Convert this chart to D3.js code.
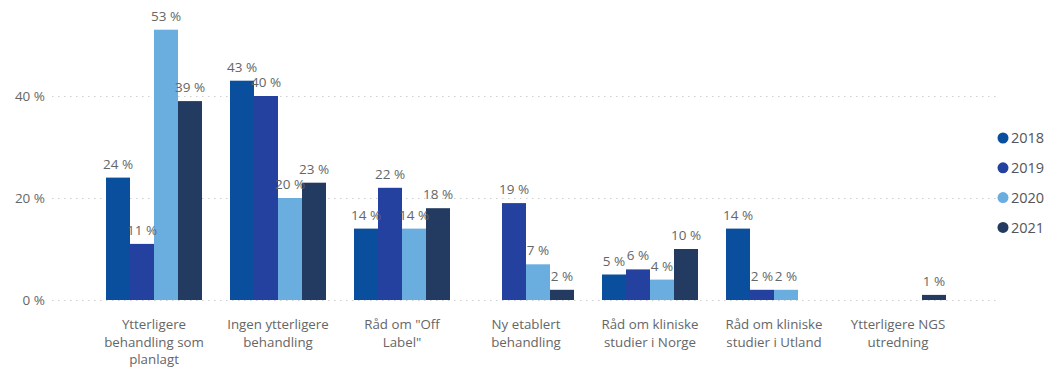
<!DOCTYPE html>
<html>
<head>
<meta charset="utf-8">
<script src="https://cdn.jsdelivr.net/npm/d3@7"></script>
<style>
  html, body { margin: 0; padding: 0; background: #fff; }
  svg { display: block; font-family: "Segoe UI", "Open Sans", "Noto Sans", sans-serif; }
</style>
</head>
<body>
<svg id="chart" width="1045" height="369"></svg>
<script>
// Categories (x axis), each label split into display lines
const categories = [
  "Ytterligere behandling som planlagt",
  "Ingen ytterligere behandling",
  "Råd om \"Off Label\"",
  "Ny etablert behandling",
  "Råd om kliniske studier i Norge",
  "Råd om kliniske studier i Utland",
  "Ytterligere NGS utredning"
];
const categoryLines = [
  ["Ytterligere", "behandling som", "planlagt"],
  ["Ingen ytterligere", "behandling"],
  ["Råd om \"Off", "Label\""],
  ["Ny etablert", "behandling"],
  ["Råd om kliniske", "studier i Norge"],
  ["Råd om kliniske", "studier i Utland"],
  ["Ytterligere NGS", "utredning"]
];

const years = ["2018", "2019", "2020", "2021"];
const colors = ["#0a4f9e", "#2541a0", "#6aaee0", "#233b60"];

// Percent per category, one array per year (null = no bar)
const values2018 = [24, 43, 14, null, 5, 14, null];
const values2019 = [11, 40, 22, 19, 6, 2, null];
const values2020 = [53, 20, 14, 7, 4, 2, null];
const values2021 = [39, 23, 18, 2, 10, null, 1];
const seriesValues = [values2018, values2019, values2020, values2021];

const yTicks = [0, 20, 40];

const svg = d3.select("#chart");

const x = d3.scaleBand()
  .domain(categories)
  .range([92, 960])
  .paddingInner(28 / 124)
  .paddingOuter(14 / 124);

const xSub = d3.scaleBand()
  .domain(years)
  .range([0, x.bandwidth()])
  .padding(0);

const y = d3.scaleLinear().domain([0, 40]).range([300, 96]);

const color = d3.scaleOrdinal().domain(years).range(colors);

// Dotted gridlines
svg.append("g")
  .selectAll("line")
  .data(yTicks)
  .join("line")
  .attr("x1", 52)
  .attr("x2", 998)
  .attr("y1", d => Math.round(y(d)) + 0.5)
  .attr("y2", d => Math.round(y(d)) + 0.5)
  .attr("stroke", "#cfcfcf")
  .attr("stroke-width", 1)
  .attr("stroke-dasharray", "1.5,4.5");

// Y axis labels
const yAxis = d3.axisLeft(y).tickValues(yTicks).tickSize(0).tickPadding(0)
  .tickFormat(d => d + " %");
svg.append("g")
  .attr("transform", "translate(45,0)")
  .call(yAxis)
  .call(g => g.select(".domain").remove())
  .call(g => g.selectAll("text")
    .attr("fill", "#666")
    .attr("font-size", "13.5px")
    .attr("font-family", "\"Segoe UI\", \"Open Sans\", sans-serif"));

// Flatten into bar records
const bars = [];
categories.forEach((c, i) => {
  years.forEach((yr, j) => {
    const v = seriesValues[j][i];
    if (v !== null) bars.push({ category: c, year: yr, value: v });
  });
});

const barG = svg.append("g");
barG.selectAll("rect")
  .data(bars)
  .join("rect")
  .attr("x", d => x(d.category) + xSub(d.year))
  .attr("y", d => y(d.value))
  .attr("width", xSub.bandwidth())
  .attr("height", d => y(0) - y(d.value))
  .attr("fill", d => color(d.year));

// Value labels above bars
svg.append("g")
  .selectAll("text")
  .data(bars)
  .join("text")
  .attr("x", d => x(d.category) + xSub(d.year) + xSub.bandwidth() / 2)
  .attr("y", d => y(d.value) - 9)
  .attr("text-anchor", "middle")
  .attr("fill", "#666")
  .attr("font-size", "13.5px")
  .text(d => d.value + " %");

// X axis category labels (wrapped)
const xLab = svg.append("g")
  .selectAll("text")
  .data(categories)
  .join("text")
  .attr("x", d => x(d) + x.bandwidth() / 2)
  .attr("y", 329)
  .attr("text-anchor", "middle")
  .attr("fill", "#666")
  .attr("font-size", "13.3px");
xLab.each(function(d, i) {
  const t = d3.select(this);
  categoryLines[i].forEach((line, k) => {
    t.append("tspan")
      .attr("x", x(d) + x.bandwidth() / 2)
      .attr("dy", k === 0 ? 0 : 17.5)
      .text(line);
  });
});

// Legend
const legend = svg.append("g")
  .selectAll("g")
  .data(years)
  .join("g")
  .attr("transform", (d, i) => `translate(1003, ${138 + i * 29.8})`);
legend.append("circle")
  .attr("r", 5.5)
  .attr("fill", d => color(d));
legend.append("text")
  .attr("x", 8)
  .attr("dy", "0.36em")
  .attr("fill", "#555")
  .attr("font-size", "14.5px")
  .text(d => d);
</script>
</body>
</html>
